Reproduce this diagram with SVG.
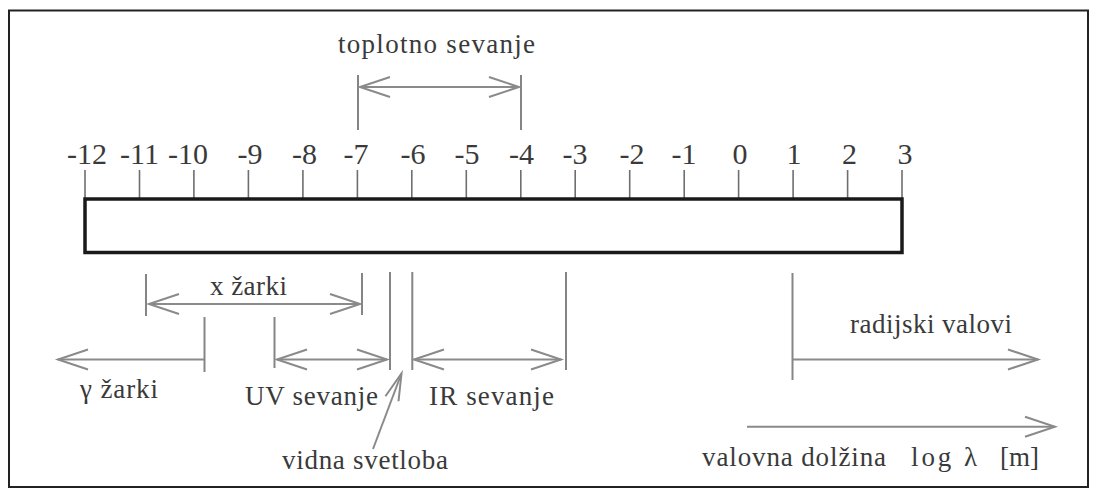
<svg xmlns="http://www.w3.org/2000/svg" width="1096" height="497" viewBox="0 0 1096 497">
  <style>
    text { font-family: "Liberation Serif", "Times New Roman", Times, "DejaVu Serif", serif; fill: #3a3a3a; }
    .num { font-size: 30px; text-anchor: middle; }
    .txt { font-size: 27px; }
    .tick { stroke: #6e6e6e; stroke-width: 1.6; }
    .mark { stroke: #858585; stroke-width: 2; fill: none; }
    .arrow { stroke: #8a8a8a; stroke-width: 2; fill: none; }
  </style>
  <defs>
    <!-- open chevron heads, drawn in user units -->
    <marker id="head" markerUnits="userSpaceOnUse" markerWidth="40" markerHeight="30" refX="0" refY="0" orient="auto-start-reverse" overflow="visible">
      <path d="M-30,-10 L0,0 L-30,10" fill="none" stroke="#8a8a8a" stroke-width="2"/>
    </marker>
    <marker id="headNarrow" markerUnits="userSpaceOnUse" markerWidth="40" markerHeight="30" refX="0" refY="0" orient="auto" overflow="visible">
      <path d="M-27,-7 L0,0 L-27,7" fill="none" stroke="#8a8a8a" stroke-width="2"/>
    </marker>
  </defs>

  <rect width="1096" height="497" fill="#ffffff"/>

  <!-- outer frame -->
  <g id="frame">
    <rect x="9" y="10.5" width="1079" height="476.5" fill="none" stroke="#222" stroke-width="2"/>
  </g>

  <!-- logarithmic wavelength scale -->
  <g id="scale">
    <g id="ticks">
      <line class="tick" x1="85" y1="170" x2="85" y2="199"/>
      <line class="tick" x1="139.5" y1="170" x2="139.5" y2="199"/>
      <line class="tick" x1="193.9" y1="170" x2="193.9" y2="199"/>
      <line class="tick" x1="248.4" y1="170" x2="248.4" y2="199"/>
      <line class="tick" x1="302.9" y1="170" x2="302.9" y2="199"/>
      <line class="tick" x1="357.4" y1="170" x2="357.4" y2="199"/>
      <line class="tick" x1="411.8" y1="170" x2="411.8" y2="199"/>
      <line class="tick" x1="466.3" y1="170" x2="466.3" y2="199"/>
      <line class="tick" x1="520.8" y1="170" x2="520.8" y2="199"/>
      <line class="tick" x1="575.2" y1="170" x2="575.2" y2="199"/>
      <line class="tick" x1="629.7" y1="170" x2="629.7" y2="199"/>
      <line class="tick" x1="684.2" y1="170" x2="684.2" y2="199"/>
      <line class="tick" x1="738.6" y1="170" x2="738.6" y2="199"/>
      <line class="tick" x1="793.1" y1="170" x2="793.1" y2="199"/>
      <line class="tick" x1="847.6" y1="170" x2="847.6" y2="199"/>
      <line class="tick" x1="902" y1="170" x2="902" y2="199"/>
    </g>
    <g id="tick-labels" class="num">
      <text x="87" y="164">-12</text>
      <text x="139.5" y="164">-11</text>
      <text x="188" y="164">-10</text>
      <text x="250" y="164">-9</text>
      <text x="304.5" y="164">-8</text>
      <text x="356" y="164">-7</text>
      <text x="413" y="164">-6</text>
      <text x="467" y="164">-5</text>
      <text x="521.5" y="164">-4</text>
      <text x="575" y="164">-3</text>
      <text x="632" y="164">-2</text>
      <text x="684" y="164">-1</text>
      <text x="740" y="164">0</text>
      <text x="794" y="164">1</text>
      <text x="849.5" y="164">2</text>
      <text x="905" y="164">3</text>
    </g>
    <rect id="bar" x="85" y="199" width="817" height="53.5" fill="#ffffff" stroke="#1a1a1a" stroke-width="3.5"/>
  </g>

  <!-- band labels -->
  <g id="toplotno-sevanje">
    <text class="txt" x="338" y="53" textLength="197">toplotno sevanje</text>
  </g>
  <g id="x-zarki">
    <text class="txt" x="210" y="295" textLength="77">x žarki</text>
  </g>
  <g id="gama-zarki">
    <text class="txt" x="80" y="398" textLength="78">γ žarki</text>
  </g>
  <g id="uv-sevanje">
    <text class="txt" x="245" y="405" textLength="133">UV sevanje</text>
  </g>
  <g id="ir-sevanje">
    <text class="txt" x="429" y="405" textLength="125">IR sevanje</text>
  </g>
  <g id="vidna-svetloba">
    <text class="txt" x="282" y="469" textLength="166">vidna svetloba</text>
  </g>
  <g id="radijski-valovi">
    <text class="txt" x="850" y="333" textLength="162">radijski valovi</text>
  </g>
  <g id="valovna-dolzina">
    <text class="txt" x="702" y="466" textLength="184">valovna dolžina</text>
    <text class="txt" x="911" y="466" textLength="66">log λ</text>
    <text class="txt" x="1000" y="466">[m]</text>
  </g>

  <!-- range brackets and arrows -->
  <g id="connectors">
    <!-- toplotno sevanje: -7 .. -4 -->
    <line class="mark" x1="358" y1="75" x2="358" y2="130"/>
    <line class="mark" x1="521" y1="75" x2="521" y2="130"/>
    <line class="arrow" x1="360" y1="87" x2="519" y2="87" marker-start="url(#head)" marker-end="url(#head)"/>

    <!-- x žarki -->
    <line class="mark" x1="146" y1="274" x2="146" y2="316"/>
    <line class="mark" x1="362" y1="273" x2="362" y2="315"/>
    <line class="arrow" x1="149" y1="304" x2="360" y2="304" marker-start="url(#head)" marker-end="url(#head)"/>

    <!-- γ žarki -->
    <line class="mark" x1="204.5" y1="317" x2="204.5" y2="372"/>
    <line class="arrow" x1="204.5" y1="359.5" x2="58" y2="359.5" marker-end="url(#head)"/>

    <!-- UV sevanje -->
    <line class="mark" x1="274.5" y1="317" x2="274.5" y2="368"/>
    <line class="arrow" x1="277" y1="359.5" x2="387" y2="359.5" marker-start="url(#head)" marker-end="url(#head)"/>

    <!-- vidna svetloba -->
    <line class="mark" x1="390" y1="272" x2="390" y2="370"/>
    <line class="mark" x1="412.3" y1="272" x2="412.3" y2="370"/>
    <line class="arrow" x1="373" y1="449" x2="401.5" y2="373.5" marker-end="url(#headNarrow)"/>

    <!-- IR sevanje -->
    <line class="mark" x1="566" y1="272" x2="566" y2="370"/>
    <line class="arrow" x1="414" y1="359.5" x2="561" y2="359.5" marker-start="url(#head)" marker-end="url(#head)"/>

    <!-- radijski valovi -->
    <line class="mark" x1="792.5" y1="273" x2="792.5" y2="380"/>
    <line class="arrow" x1="792.5" y1="359.5" x2="1038" y2="359.5" marker-end="url(#head)"/>

    <!-- wavelength axis -->
    <line class="arrow" x1="747" y1="426.7" x2="1055" y2="426.7" marker-end="url(#head)"/>
  </g>
</svg>
